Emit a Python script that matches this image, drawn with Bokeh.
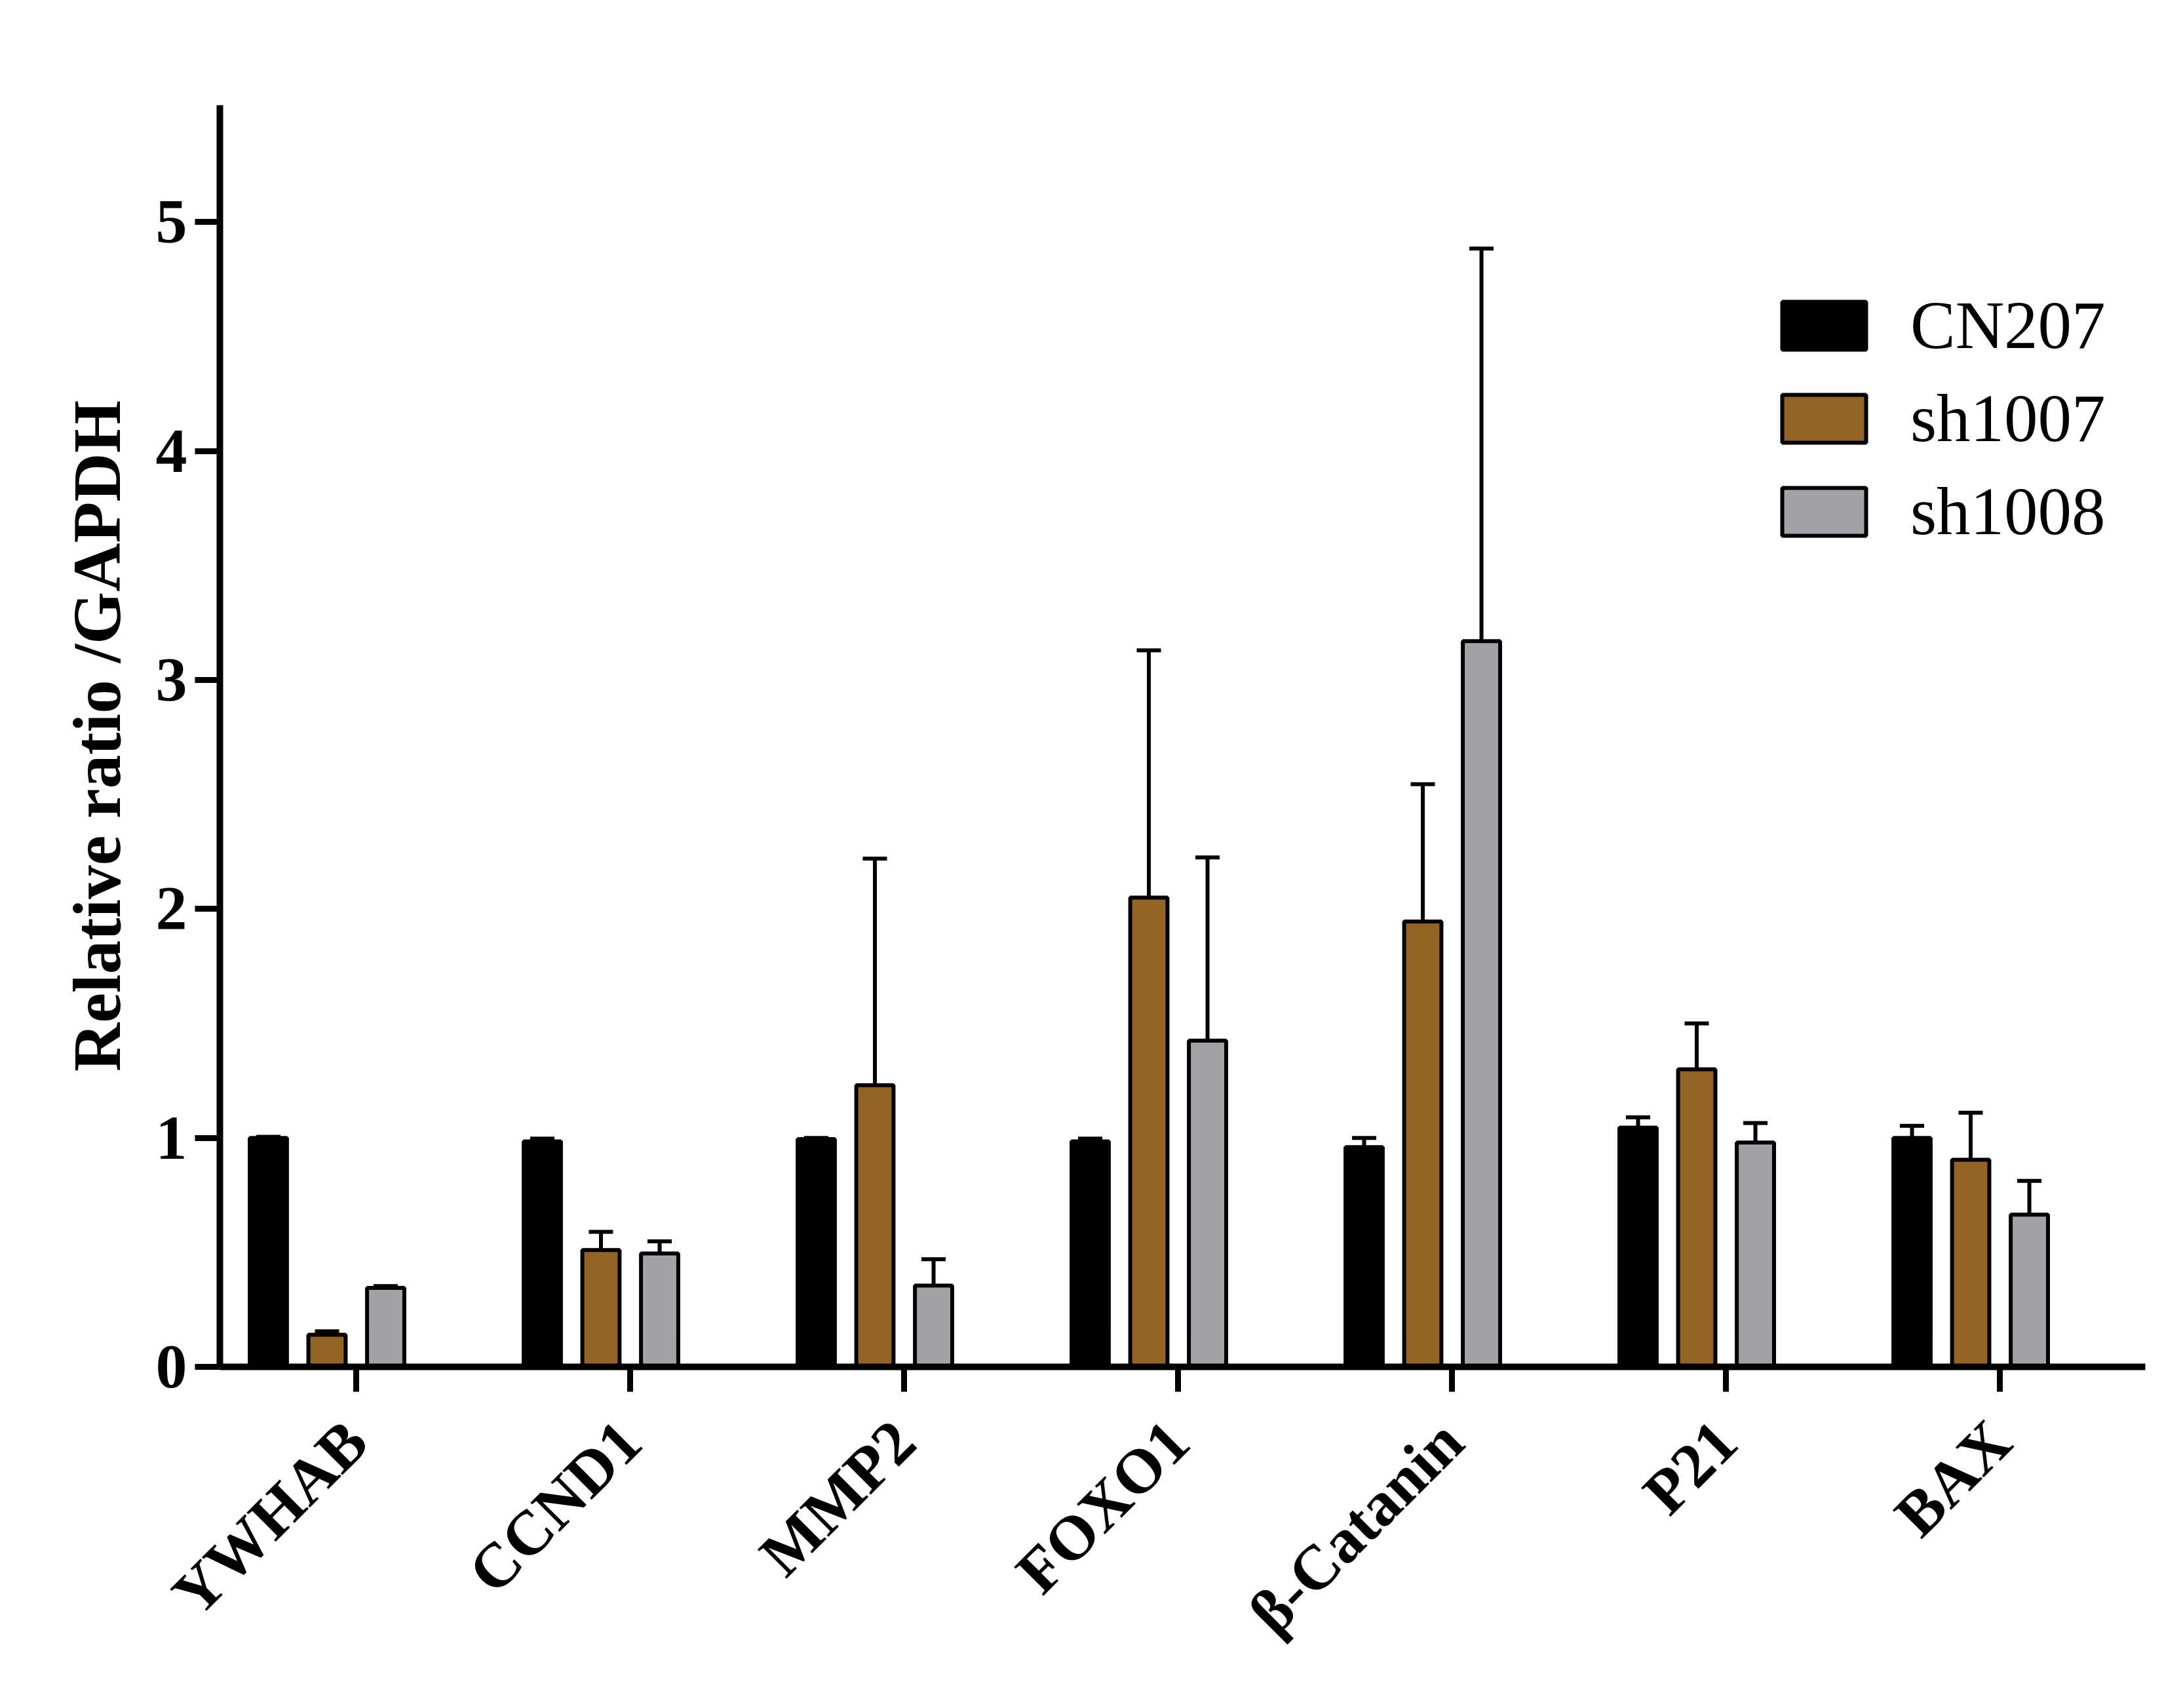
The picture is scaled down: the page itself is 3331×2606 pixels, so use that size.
from bokeh.plotting import figure
from bokeh.models import (ColumnDataSource, FixedTicker, Range1d, Whisker, TeeHead,
                          Legend, LegendItem)
from bokeh.embed import file_html
from bokeh.resources import INLINE

# ---- data ----
categories = ["YWHAB", "CCND1", "MMP2", "FOXO1", "β-Catanin", "P21", "BAX"]
series_names = ["CN207", "sh1007", "sh1008"]
cn207 = [1.00, 0.985, 0.995, 0.985, 0.96, 1.045, 1.00]
cn207_err = [0.005, 0.012, 0.005, 0.012, 0.04, 0.045, 0.053]
sh1007 = [0.14, 0.51, 1.23, 2.05, 1.945, 1.30, 0.905]
sh1007_err = [0.015, 0.08, 0.99, 1.08, 0.60, 0.20, 0.205]
sh1008 = [0.345, 0.495, 0.355, 1.425, 3.17, 0.98, 0.665]
sh1008_err = [0.008, 0.053, 0.115, 0.80, 1.715, 0.085, 0.147]
y_ticks = [0, 1, 2, 3, 4, 5]

# ---- style ----
colors = ["#000000", "#936324", "#A3A2A6"]
offsets = [-0.3206, -0.1065, 0.1077]
bar_w = 0.136
FONT = "Liberation Serif"

p = figure(width=3331, height=2606, output_backend="svg", toolbar_location=None,
           x_range=Range1d(-0.4976, 6.531), y_range=Range1d(0, 5.511),
           min_border_left=335, min_border_right=58, min_border_top=160,
           min_border_bottom=521)
p.outline_line_color = None
p.xgrid.visible = False
p.ygrid.visible = False
p.background_fill_color = "white"
p.border_fill_color = "white"

values = [cn207, sh1007, sh1008]
errors = [cn207_err, sh1007_err, sh1008_err]
renderers = []
for vals, errs, off, col in zip(values, errors, offsets, colors):
    xs = [i + off for i in range(len(categories))]
    src = ColumnDataSource(dict(x=xs, top=vals,
                                upper=[v + e for v, e in zip(vals, errs)]))
    w = Whisker(source=src, base="x", lower="top", upper="upper", dimension="height",
                line_width=6, line_color="black",
                upper_head=TeeHead(size=37, line_width=6, line_color="black"),
                lower_head=None)
    p.add_layout(w)
    r = p.vbar(x="x", top="top", bottom=0, width=bar_w, source=src,
               fill_color=col, line_color="black", line_width=6)
    renderers.append(r)

# axes
for ax in (p.xaxis[0], p.yaxis[0]):
    ax.axis_line_width = 10
    ax.axis_line_color = "black"
    ax.major_tick_line_width = 9
    ax.major_tick_line_color = "black"
    ax.major_tick_in = 0
    ax.major_tick_out = 38
    ax.minor_tick_line_color = None
    ax.major_label_text_font = FONT
    ax.major_label_text_font_style = "bold"
    ax.major_label_text_font_size = "96px"
    ax.major_label_text_color = "black"

p.yaxis[0].ticker = FixedTicker(ticks=y_ticks)
p.yaxis[0].major_label_standoff = 12
p.yaxis[0].axis_label = "Relative ratio /GAPDH"
p.yaxis[0].axis_label_text_font = FONT
p.yaxis[0].axis_label_text_font_style = "bold"
p.yaxis[0].axis_label_text_font_size = "103px"
p.yaxis[0].axis_label_text_color = "black"
p.yaxis[0].axis_label_standoff = 30

p.xaxis[0].ticker = FixedTicker(ticks=list(range(len(categories))))
p.xaxis[0].major_label_overrides = {i: c for i, c in enumerate(categories)}
p.xaxis[0].major_label_orientation = 0.7854
p.xaxis[0].major_label_standoff = 60

legend = Legend(items=[LegendItem(label=n, renderers=[r]) for n, r in zip(series_names, renderers)],
                location=(2368, 1246), orientation="vertical",
                glyph_width=160, glyph_height=91, label_height=91,
                spacing=24, padding=0, margin=0, label_standoff=52,
                label_text_font=FONT, label_text_font_size="103px",
                label_text_color="black", border_line_color=None,
                background_fill_alpha=0)
p.add_layout(legend)

open("out.html", "w").write(file_html(p, INLINE))
